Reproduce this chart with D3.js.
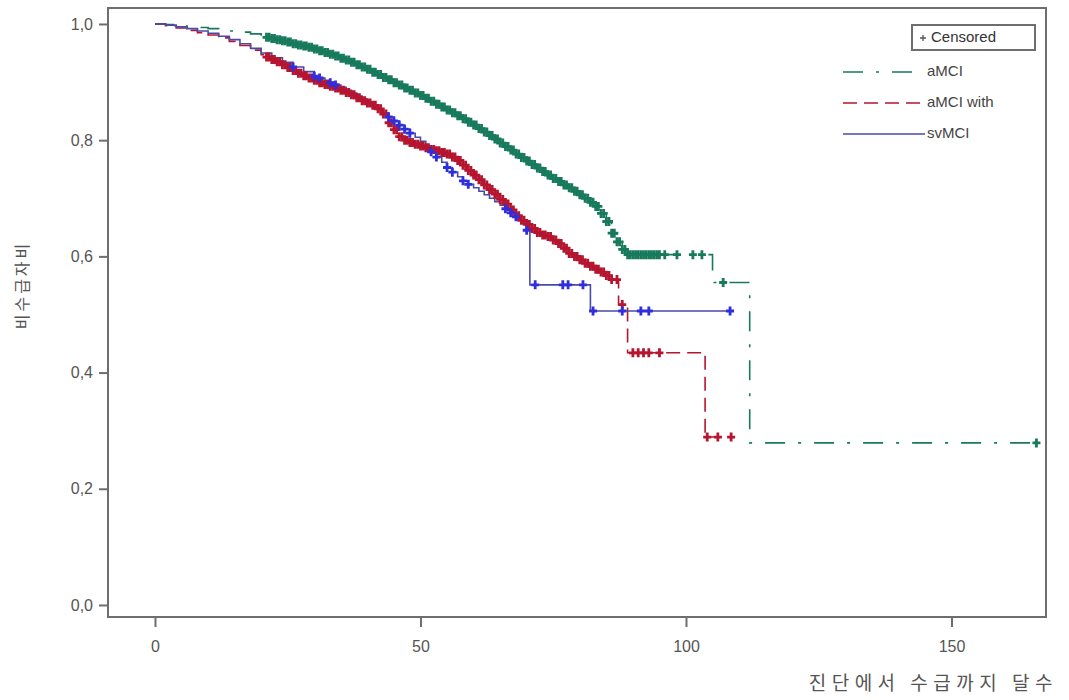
<!DOCTYPE html>
<html>
<head>
<meta charset="utf-8">
<script src="https://cdn.jsdelivr.net/npm/d3@7"></script>
<style>
  body { margin: 0; background: #fff; }
  text { font-family: "Liberation Sans", Arial, sans-serif; }
</style>
</head>
<body>
<svg id="km" width="1069" height="700"></svg>
<script>
// aMCI
let timesA = [0, 2, 4, 6, 8, 10, 12, 14, 16, 18, 20,
    21, 22, 23, 24, 25, 26, 27, 28, 29, 30, 31, 32, 33, 34, 35, 36, 37, 38, 39, 40, 41, 42, 43, 44, 45, 46, 47, 48, 49, 50,
    51, 52, 53, 54, 55, 56, 57, 58, 59, 60, 61, 62, 63, 64, 65, 66, 67, 68, 69, 70, 71, 72, 73, 74, 75, 76, 77, 78, 79, 80,
    81, 82, 83, 84, 85, 86, 87, 88, 89, 105, 112]
let survA = [1.000, 0.999, 0.997, 0.995, 0.994, 0.992, 0.990, 0.988, 0.986, 0.983, 0.979,
    0.977, 0.975, 0.973, 0.971, 0.969, 0.966, 0.964, 0.962, 0.960, 0.957, 0.954, 0.951, 0.948, 0.945, 0.941, 0.938, 0.934, 0.930, 0.926, 0.922,
    0.917, 0.913, 0.908, 0.904, 0.899, 0.895, 0.890, 0.886, 0.881, 0.877, 0.872, 0.867, 0.862, 0.857, 0.852, 0.847, 0.842, 0.837, 0.831, 0.826,
    0.820, 0.814, 0.808, 0.802, 0.795, 0.789, 0.783, 0.776, 0.770, 0.764, 0.758, 0.752, 0.746, 0.740, 0.734, 0.729, 0.723, 0.718, 0.712, 0.706,
    0.700, 0.693, 0.686, 0.674, 0.660, 0.640, 0.625, 0.612, 0.603, 0.555, 0.279]
let endA = 166
let censA = [21, 21.5, 22, 22.5, 23, 23.5, 24, 24.5, 25, 25.5, 26, 26.5, 27, 27.5, 28, 28.5, 29, 29.5, 30, 30.5,
    31, 31.5, 32, 32.5, 33, 33.5, 34, 34.5, 35, 35.5, 36, 36.5, 37, 37.5, 38, 38.5, 39, 39.5, 40, 40.5,
    41, 41.5, 42, 42.5, 43, 43.5, 44, 44.5, 45, 45.5, 46, 46.5, 47, 47.5, 48, 48.5, 49, 49.5, 50, 50.5,
    51, 51.5, 52, 52.5, 53, 53.5, 54, 54.5, 55, 55.5, 56, 56.5, 57, 57.5, 58, 58.5, 59, 59.5, 60, 60.5,
    61, 61.5, 62, 62.5, 63, 63.5, 64, 64.5, 65, 65.5, 66, 66.5, 67, 67.5, 68, 68.5, 69, 69.5, 70, 70.5,
    71, 71.5, 72, 72.5, 73, 73.5, 74, 74.5, 75, 75.5, 76, 76.5, 77, 77.5, 78, 78.5, 79, 79.5, 80, 80.5,
    81, 81.5, 82, 82.5, 83, 83.5, 84, 84.5, 85, 85.5, 86, 86.5, 87, 87.5, 88, 88.5,
    89, 89.5, 90, 90.5, 91, 91.5, 92, 92.5, 93, 93.5, 94, 94.5, 95, 96, 98.3, 101.3, 103, 107, 166]

// aMCI with
let timesB = [0, 2, 4, 6, 8, 10, 12, 14, 16, 18, 20,
    21, 22, 23, 24, 25, 26, 27, 28, 29, 30, 31, 32, 33, 34, 35, 36, 37, 38, 39, 40, 41, 42, 43, 44, 45, 46, 47, 48, 49, 50,
    51, 52, 53, 54, 55, 56, 57, 58, 59, 60, 61, 62, 63, 64, 65, 66, 67, 68, 69, 70, 71, 72, 73, 74, 75, 76, 77, 78, 79, 80,
    81, 82, 83, 84, 85, 86, 87.3, 89, 103.6]
let survB = [1.000, 0.997, 0.993, 0.989, 0.985, 0.981, 0.976, 0.970, 0.963, 0.955, 0.947,
    0.943, 0.939, 0.935, 0.930, 0.925, 0.920, 0.915, 0.911, 0.907, 0.903, 0.899, 0.896, 0.893, 0.890, 0.886, 0.882, 0.878, 0.873, 0.868, 0.864,
    0.860, 0.854, 0.845, 0.830, 0.818, 0.806, 0.800, 0.796, 0.793, 0.790, 0.787, 0.784, 0.782, 0.779, 0.776, 0.771, 0.765, 0.757, 0.748, 0.740,
    0.732, 0.723, 0.715, 0.707, 0.698, 0.690, 0.680, 0.670, 0.662, 0.655, 0.648, 0.641, 0.637, 0.634, 0.628, 0.622, 0.614, 0.605, 0.600, 0.594,
    0.588, 0.583, 0.578, 0.573, 0.567, 0.560, 0.517, 0.434, 0.289]
let endB = 108.5
let censB = [21, 21.5, 22, 22.5, 23, 23.5, 24, 24.5, 25, 25.5, 26, 26.5, 27, 27.5, 28, 28.5, 29, 29.5, 30, 30.5,
    31, 31.5, 32, 32.5, 33, 33.5, 34, 34.5, 35, 35.5, 36, 36.5, 37, 37.5, 38, 38.5, 39, 39.5, 40, 40.5,
    41, 41.5, 42, 42.5, 43, 43.5, 44, 44.5, 45, 45.5, 46, 46.5, 47, 47.5, 48, 48.5, 49, 49.5, 50, 50.5,
    51, 51.5, 52, 52.5, 53, 53.5, 54, 54.5, 55, 55.5, 56, 56.5, 57, 57.5, 58, 58.5, 59, 59.5, 60, 60.5,
    61, 61.5, 62, 62.5, 63, 63.5, 64, 64.5, 65, 65.5, 66, 66.5, 67, 67.5, 68, 68.5, 69, 69.5, 70, 70.5,
    71, 71.5, 72, 72.5, 73, 73.5, 74, 74.5, 75, 75.5, 76, 76.5, 77, 77.5, 78, 78.5, 79, 79.5, 80, 80.5,
    81, 81.5, 82, 82.5, 83, 83.5, 84, 84.5, 85, 85.5, 86, 87, 88, 90, 91, 92, 93, 95, 104, 106, 108.5]

// svMCI
let timesC = [0, 2, 4, 6, 8, 10, 12, 14, 16, 18, 20, 22, 24, 26, 28, 30, 31, 32, 33, 34, 35, 36, 37, 38, 39, 40, 41, 42, 43, 44, 45, 46, 47, 48, 49, 50,
    51, 52, 53, 54, 55, 56, 57, 58, 59, 60, 61, 62, 63, 64, 65, 66, 67, 68, 69, 70, 70.6, 82]
let survC = [1.000, 0.998, 0.995, 0.992, 0.988, 0.984, 0.979, 0.973, 0.966, 0.958, 0.950, 0.942, 0.934, 0.926, 0.918, 0.910, 0.907, 0.903, 0.899, 0.895, 0.891, 0.886, 0.881, 0.876, 0.871, 0.866,
    0.860, 0.854, 0.847, 0.840, 0.833, 0.826, 0.819, 0.812, 0.805, 0.798, 0.789, 0.780, 0.771, 0.762, 0.753, 0.745, 0.737, 0.730, 0.724, 0.718, 0.712, 0.706, 0.700, 0.694, 0.688, 0.682, 0.675, 0.668, 0.657, 0.645, 0.551, 0.506]
let endC = 108.3
let censC = [26, 30, 31, 33, 34, 44, 45, 46, 47, 48, 52, 53, 55, 56, 58, 59, 66, 67, 68, 70, 71.6, 76.8, 77.8, 80.6, 82.5, 88, 91.5, 93, 108.3]

let groups = ["aMCI", "aMCI with", "svMCI"]
let xTicks = [0, 50, 100, 150]
let yTicks = [0, 0.2, 0.4, 0.6, 0.8, 1.0]

let series = [
    { name: groups[0], times: timesA, surv: survA, end: endA, cens: censA, color: "#177a5b", mark: "#177a5b", dash: "20,13,3,13" },
    { name: groups[1], times: timesB, surv: survB, end: endB, cens: censB, color: "#b5152f", mark: "#b5152f", dash: "14,7" },
    { name: groups[2], times: timesC, surv: survC, end: endC, cens: censC, color: "#4a4aa8", mark: "#2e2edc", dash: null }
]

let frame = { left: 108, right: 1046, top: 8, bottom: 617 }

let x = d3.scaleLinear().domain([-8.85, 167.8]).range([frame.left, frame.right])
let y = d3.scaleLinear().domain([-0.0207, 1.0275]).range([frame.bottom, frame.top])

let svg = d3.select('#km')

function survAt(s, t) {
    let i = d3.bisectRight(s.times, t) - 1
    return s.surv[Math.max(0, i)]
}

// axes
svg.append("g")
    .attr("transform", "translate(0," + frame.bottom + ")")
    .call(d3.axisBottom(x).tickValues(xTicks).tickSize(10).tickPadding(14).tickFormat(d3.format("d")))
svg.append("g")
    .attr("transform", "translate(" + frame.left + ",0)")
    .call(d3.axisLeft(y).tickValues(yTicks).tickSize(9).tickPadding(6).tickFormat(d => d3.format(".1f")(d).replace(".", ",")))

svg.selectAll(".domain").remove()
svg.selectAll(".tick line").attr("stroke", "#6e6e6e").attr("stroke-width", 2)
svg.selectAll(".tick text").attr("fill", "#555").style("font-size", "16px")

svg.append("rect")
    .attr("x", frame.left).attr("y", frame.top)
    .attr("width", frame.right - frame.left).attr("height", frame.bottom - frame.top)
    .attr("fill", "none").attr("stroke", "#6e6e6e").attr("stroke-width", 2)

// curves
let line = d3.line()
    .x(d => x(d[0]))
    .y(d => y(d[1]))
    .curve(d3.curveStepAfter)

series.forEach(function (s) {
    let pts = s.times.map((t, i) => [t, s.surv[i]])
    pts.push([s.end, s.surv[s.surv.length - 1]])
    svg.append("path")
        .attr("d", line(pts))
        .attr("fill", "none")
        .attr("stroke", s.color)
        .attr("stroke-width", 1.6)
        .attr("stroke-dasharray", s.dash)
})

series.forEach(function (s) {
    let g = svg.append("g")
    s.cens.forEach(function (t) {
        let cx = x(t), cy = y(survAt(s, t))
        g.append("path")
            .attr("d", "M" + (cx - 4) + "," + cy + "H" + (cx + 4) + "M" + cx + "," + (cy - 4.5) + "V" + (cy + 4.5))
            .attr("stroke", s.mark)
            .attr("stroke-width", 2.8)
    })
})

// legend
svg.append("rect")
    .attr("x", 912).attr("y", 25).attr("width", 123).attr("height", 25)
    .attr("fill", "none").attr("stroke", "#6e6e6e").attr("stroke-width", 2)
svg.append("path")
    .attr("d", "M920,38H926M923,35V41")
    .attr("stroke", "#555").attr("stroke-width", 1.3)
svg.append("text")
    .attr("x", 931).attr("y", 38)
    .attr("alignment-baseline", "middle")
    .attr("fill", "#333")
    .style("font-size", "15px")
    .text("Censored")

series.forEach(function (s, i) {
    let ly = 72 + i * 31
    svg.append("line")
        .attr("x1", 843).attr("x2", 925).attr("y1", ly).attr("y2", ly)
        .attr("stroke", s.color).attr("stroke-width", 1.6)
        .attr("stroke-dasharray", s.dash)
    svg.append("text")
        .attr("x", 927).attr("y", ly)
        .attr("alignment-baseline", "middle")
        .attr("fill", "#444")
        .style("font-size", "15px")
        .text(s.name)
})

// axis titles
svg.append("text")
    .attr("x", 1058).attr("y", 690)
    .attr("text-anchor", "end")
    .attr("fill", "#555")
    .style("font-family", "'Noto Sans CJK KR', sans-serif")
    .style("font-size", "19px")
    .style("letter-spacing", "5.5px")
    .text("진단에서 수급까지 달수")

svg.append("text")
    .attr("transform", "translate(28,285) rotate(-90)")
    .attr("text-anchor", "middle")
    .attr("fill", "#555")
    .style("font-family", "'Noto Sans CJK KR', sans-serif")
    .style("font-size", "16px")
    .style("letter-spacing", "3px")
    .text("비수급자비")
</script>
</body>
</html>
